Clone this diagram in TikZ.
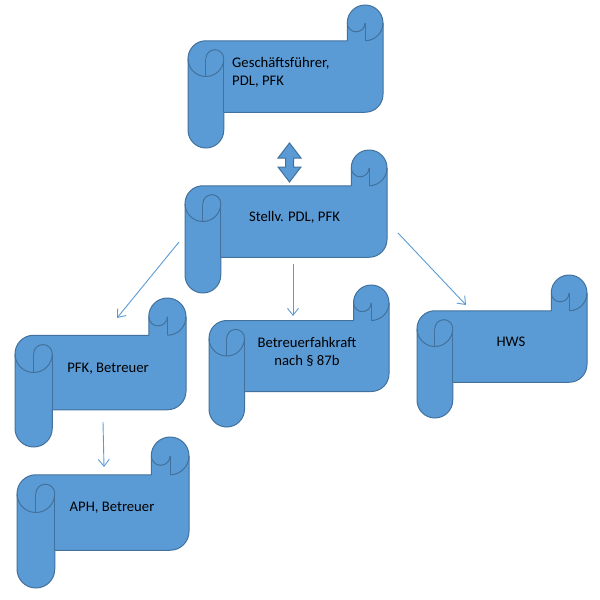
\documentclass[tikz,border=0pt]{standalone}
\usepackage{fontspec}
\setmainfont{Carlito}
\usetikzlibrary{arrows.meta}
\definecolor{scrollfillc}{HTML}{5B9BD5}
\definecolor{scrolllinec}{HTML}{41719C}
\definecolor{arrowc}{HTML}{5B9BD5}
\tikzset{
  scrollbody/.style={fill=scrollfillc,draw=scrolllinec,line width=1pt,line join=round},
  scrollline/.style={draw=scrolllinec,line width=1pt},
  lbl/.style={font=\fontsize{14.67}{18}\selectfont,text=black,inner sep=0pt},
  conn/.style={draw=arrowc,line width=0.9pt,-{Straight Barb[length=7pt,width=11pt]}},
  dblarrow/.style={fill=scrollfillc,draw=scrolllinec,line width=1pt,line join=miter},
  pics/scroll/.style 2 args={code={
    \pgfmathsetmacro\scW{#1}
    \pgfmathsetmacro\scH{#2}
    \pgfmathsetmacro\scC{min(#1,#2)/4}
    \pgfmathsetmacro\scD{\scC/2}
    \pgfmathsetmacro\scE{\scC/4}
    \path[scrollbody] (0,1.5*\scC) arc[start angle=180,end angle=270,radius=\scD]
      -- (\scW-\scC,\scC) -- (\scW-\scC,\scD)
      arc[start angle=180,end angle=360,radius=\scD]
      -- (\scW,\scH-1.5*\scC)
      arc[start angle=0,end angle=90,radius=\scD]
      -- (\scC,\scH-\scC) -- (\scC,\scH-\scD)
      arc[start angle=0,end angle=180,radius=\scD] -- cycle;
    \draw[scrollline] (\scW-\scD,\scD) -- (\scW-\scD,\scC);
    \draw[scrollline] (\scW-\scC,\scD) arc[start angle=180,end angle=0,radius=\scE];
    \draw[scrollline] (\scW-\scD,\scC) arc[start angle=90,end angle=0,radius=\scD];
    \draw[scrollline] (0,1.5*\scC) arc[start angle=180,end angle=0,radius=\scD];
    \draw[scrollline] (\scD,1.5*\scC) arc[start angle=180,end angle=360,radius=\scE];
    \draw[scrollline] (\scD,1.5*\scC) -- (\scD,2*\scC);
    \draw[scrollline] (\scC,1.5*\scC) -- (\scC,\scH-\scC);
  }}
}
\begin{document}
\begin{tikzpicture}[x=1pt,y=-1pt]
\useasboundingbox (0,0) rectangle (600,600);
% scrolls
\pic at (188,5) {scroll={195}{143}};
\pic at (185,150) {scroll={202}{143}};
\pic at (15,298) {scroll={171}{149}};
\pic at (17,437) {scroll={172}{151}};
\pic at (209,285) {scroll={180}{142}};
\pic at (417,275) {scroll={170}{143}};
% labels
\node[lbl,anchor=base west,align=left] (gf) at (232,85) {Geschäftsführer,\\PDL, PFK};
\node[lbl,anchor=base] (st) at (294.5,221) {Stellv. PDL, PFK};
\node[lbl,anchor=base] (pfk) at (108,372) {PFK, Betreuer};
\node[lbl,anchor=base] (aph) at (112,511) {APH, Betreuer};
\node[lbl,anchor=base,align=center] (bf) at (307,365) {Betreuerfahkraft\\nach § 87b};
\node[lbl,anchor=base] (hws) at (511,346) {HWS};
% double arrow between top scrolls
\draw[dblarrow] (289.5,143) -- (301,158) -- (293.5,158) -- (293.5,167) -- (301,167)
  -- (289.5,182) -- (278,167) -- (285.5,167) -- (285.5,158) -- (278,158) -- cycle;
% connector end points
\coordinate (a1s) at (179,242);
\coordinate (a1e) at (117,318);
\coordinate (a2s) at (293,264);
\coordinate (a2e) at (293,316);
\coordinate (a3s) at (398,233);
\coordinate (a3e) at (466,305);
\coordinate (a4s) at (103,422);
\coordinate (a4e) at (104,467);
\draw[conn] (a1s) -- (a1e);
\draw[conn] (a2s) -- (a2e);
\draw[conn] (a3s) -- (a3e);
\draw[conn] (a4s) -- (a4e);
\end{tikzpicture}
\end{document}
